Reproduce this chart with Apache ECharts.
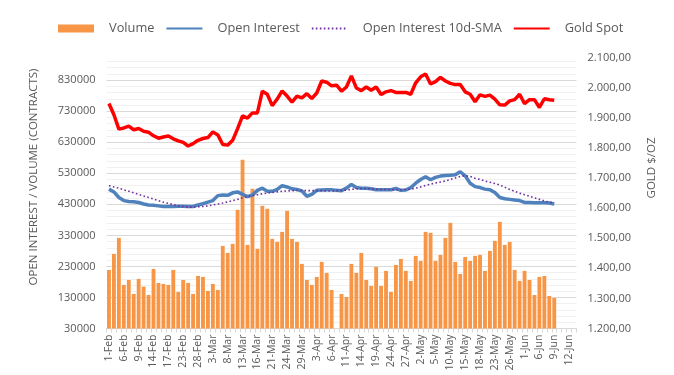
<!DOCTYPE html>
<html>
<head>
<meta charset="utf-8">
<script src="https://cdn.jsdelivr.net/npm/echarts@6/dist/echarts.min.js"></script>
<style>html,body{margin:0;padding:0;background:#fff;}#c{width:674px;height:375px;}</style>
</head>
<body>
<div id="c"></div>
<script>
var categories = [
'1-Feb','2-Feb','3-Feb','6-Feb','7-Feb','8-Feb','9-Feb','10-Feb','13-Feb','14-Feb','15-Feb','16-Feb','17-Feb','21-Feb','22-Feb','23-Feb','24-Feb','27-Feb','28-Feb',
'1-Mar','2-Mar','3-Mar','6-Mar','7-Mar','8-Mar','9-Mar','10-Mar','13-Mar','14-Mar','15-Mar','16-Mar','17-Mar','20-Mar','21-Mar','22-Mar','23-Mar','24-Mar','27-Mar','28-Mar','29-Mar','30-Mar','31-Mar',
'3-Apr','4-Apr','5-Apr','6-Apr','7-Apr','10-Apr','11-Apr','12-Apr','13-Apr','14-Apr','17-Apr','18-Apr','19-Apr','20-Apr','21-Apr','24-Apr','25-Apr','26-Apr','27-Apr','28-Apr',
'1-May','2-May','3-May','4-May','5-May','8-May','9-May','10-May','11-May','12-May','15-May','16-May','17-May','18-May','19-May','22-May','23-May','24-May','25-May','26-May','30-May','31-May',
'1-Jun','2-Jun','5-Jun','6-Jun','7-Jun','8-Jun','9-Jun','10-Jun','11-Jun','12-Jun','13-Jun'
];

var volume = [
218700,270300,321900,170300,186400,141300,189700,164800,138100,221900,176800,173500,170300,218700,147700,186400,176800,141300,199400,196100,
151000,173500,154200,296100,273500,302600,412300,573500,299400,480000,286500,425200,415500,318700,309000,341300,409000,318700,309000,238100,
186400,170300,196100,244500,209000,154200,null,141300,131600,238100,209000,273500,186400,167100,228400,167100,215500,147700,234800,254200,
215500,183000,263900,247700,341300,338100,247700,267100,321900,370300,244500,205800,260600,247700,263900,267100,215500,280000,312300,373500,
299400,309000,218700,183200,215500,186400,138100,196100,199400,134800,128400
];

var openInterest = [
479000,470000,452000,442000,439000,438000,436000,431000,428000,427000,425000,423000,423000,423000,424000,424000,423000,423000,428000,432000,
437000,442000,458000,460000,459000,467000,470000,462000,455000,460000,475000,482000,472000,472000,478000,490000,486000,480000,478000,473000,
456000,462000,475000,476000,477000,477000,475000,474000,482000,494000,484000,482000,482000,480000,477000,477000,477000,477000,481000,475000,
476000,484000,498000,510000,519000,509000,517000,521000,523000,524000,525000,535000,522000,498000,487000,484000,479000,477000,468000,452000,
448000,446000,444000,442000,436000,436000,435000,435000,435000,434000,431000
];

var oiSma10 = [
490000,486000,482000,477000,472000,467000,462000,457000,452000,447000,442000,437000,433000,429000,425000,423000,421000,421000,422000,423000,
425000,428000,431000,434000,438000,442000,446000,451000,455000,458000,461000,464000,466000,468000,470000,472000,473000,474000,474500,474500,
474000,474000,474000,474000,473000,473000,474000,475000,476000,478000,480000,481000,481000,480000,479000,478000,478000,478000,477000,477000,
478000,479000,482000,486000,491000,495000,499000,502000,505000,510000,515000,520000,522000,520000,514000,510000,505000,501000,497000,492000,
485000,478000,472000,466000,461000,456000,451000,446000,441000,437000,434000
];

var goldSpot = [
1947,1910,1862,1866,1872,1860,1864,1855,1852,1840,1832,1836,1839,1830,1823,1818,1806,1814,1825,1831,
1834,1853,1843,1811,1809,1825,1864,1906,1899,1916,1916,1988,1978,1940,1962,1989,1972,1952,1972,1966,
1980,1964,1982,2022,2018,2006,2008,1988,2002,2039,1999,1990,2002,1991,2002,1977,1986,1990,1984,1984,
1984,1978,2016,2036,2045,2012,2020,2034,2022,2014,2010,2010,1986,1978,1953,1976,1971,1975,1962,1943,
1942,1956,1960,1978,1947,1960,1960,1934,1963,1960,1958
];

var leftTicks = {min: 30000, max: 903000, step: 100000};
var rightTicks = {min: 1200, max: 2100, step: 100};

function euro(v) {
  var s = Math.round(v).toString();
  var out = '';
  while (s.length > 3) { out = '.' + s.slice(-3) + out; s = s.slice(0, -3); }
  return s + out + ',00';
}

// gridline colours: major every 100000, minor every 20000, none at the top edge
var gridColors = [];
for (var k = 0; k < 44; k++) gridColors.push(k % 5 === 0 ? '#d9d9d9' : '#f0f0f0');
gridColors.push('rgba(0,0,0,0)');

var FONT = 'Open Sans';
var chart = echarts.init(document.getElementById('c'), null, {renderer: 'canvas'});
chart.setOption({
  animation: false,
  textStyle: {fontFamily: FONT},
  legend: {
    top: 17, left: 53,
    itemWidth: 36, itemHeight: 8, itemGap: 11,
    textStyle: {fontFamily: FONT, fontSize: 12.8, color: '#595959', padding: [0, 0, 0, 10]},
    data: [
      {name: 'Volume', icon: 'rect'},
      {name: 'Open Interest', itemStyle: {opacity: 0}},
      {name: 'Open Interest 10d-SMA', itemStyle: {opacity: 0}},
      {name: 'Gold Spot', itemStyle: {opacity: 0}}
    ]
  },
  grid: {left: 106.5, right: 97.5, top: 57.5, bottom: 46.5, containLabel: false},
  xAxis: {
    type: 'category', data: categories, boundaryGap: true,
    axisLine: {lineStyle: {color: '#d9d9d9'}},
    axisTick: {show: true, interval: 0, length: 4, lineStyle: {color: '#d9d9d9'}},
    axisLabel: {interval: 2, rotate: 90, fontSize: 10.5, color: '#595959', margin: 6, fontFamily: FONT},
    splitLine: {show: false}
  },
  yAxis: [
    {
      type: 'value', min: leftTicks.min, max: leftTicks.max, interval: leftTicks.step,
      axisLine: {show: false}, axisTick: {show: false}, splitLine: {show: false},
      axisLabel: {color: '#595959', fontSize: 11, margin: 11, showMaxLabel: false, fontFamily: FONT,
        formatter: function (v) { return String(v); }}
    },
    {
      type: 'value', min: rightTicks.min, max: rightTicks.max, interval: rightTicks.step, position: 'right',
      axisLine: {show: false}, axisTick: {show: false}, splitLine: {show: false},
      axisLabel: {color: '#595959', fontSize: 11, margin: 11, fontFamily: FONT, formatter: euro}
    },
    {
      type: 'value', min: leftTicks.min, max: leftTicks.max, interval: 20000, position: 'left',
      axisLine: {show: false}, axisTick: {show: false}, axisLabel: {show: false},
      splitLine: {show: true, lineStyle: {color: gridColors, width: 1}}
    }
  ],
  graphic: [
    {type: 'text', x: 34, y: 177, rotation: Math.PI / 2,
      style: {text: 'OPEN INTEREST / VOLUME (CONTRACTS)', fill: '#595959', font: '11.5px "Open Sans"', textAlign: 'center', textVerticalAlign: 'middle'}},
    {type: 'text', x: 652, y: 168, rotation: Math.PI / 2,
      style: {text: 'GOLD $/OZ', fill: '#595959', font: '11.5px "Open Sans"', textAlign: 'center', textVerticalAlign: 'middle'}}
  ],
  series: [
    {name: 'Volume', type: 'bar', yAxisIndex: 0, data: volume, barCategoryGap: '22%',
      itemStyle: {color: '#F79646'}, z: 1},
    {name: 'Open Interest', type: 'line', yAxisIndex: 0, data: openInterest, symbol: 'none',
      lineStyle: {color: '#4F81BD', width: 3.5}, itemStyle: {color: '#4F81BD'}, z: 3},
    {name: 'Open Interest 10d-SMA', type: 'line', yAxisIndex: 0, data: oiSma10, symbol: 'none',
      lineStyle: {color: '#7030A0', width: 1.6, type: [1.6, 2.4]}, itemStyle: {color: '#7030A0'}, z: 4},
    {name: 'Gold Spot', type: 'line', yAxisIndex: 1, data: goldSpot, symbol: 'none',
      lineStyle: {color: '#FF0000', width: 3.5}, itemStyle: {color: '#FF0000'}, z: 5}
  ]
});
</script>
</body>
</html>
